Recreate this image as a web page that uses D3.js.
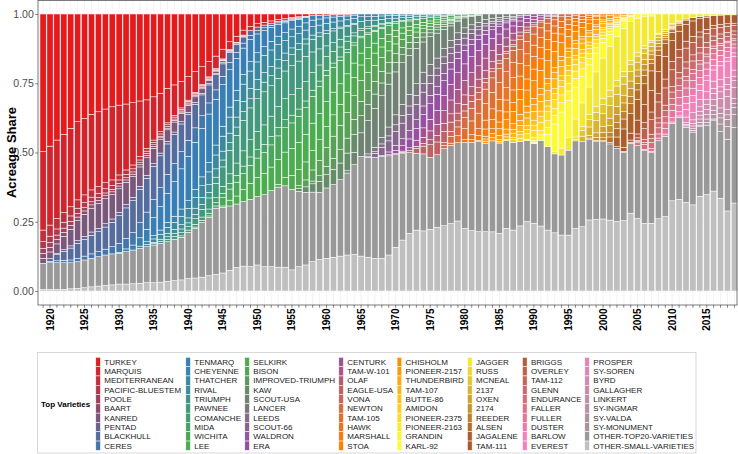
<!DOCTYPE html>
<html>
<head>
<meta charset="utf-8">
<script src="https://cdn.jsdelivr.net/npm/d3@7.9.0/dist/d3.min.js"></script>
<style>
  html, body { margin: 0; padding: 0; background: #fff; }
  svg { display: block; font-family: "Liberation Sans", Arial, sans-serif; }
</style>
</head>
<body>
<svg id="chart" width="738" height="454"></svg>
<script>
const firstYear = 1919;
const lastYear = 2019;

const varieties = [
  "TURKEY", "MARQUIS", "MEDITERRANEAN", "PACIFIC-BLUESTEM", "POOLE", "BAART", "KANRED", "PENTAD", "BLACKHULL", "CERES",
  "TENMARQ", "CHEYENNE", "THATCHER", "RIVAL", "TRIUMPH", "PAWNEE", "COMANCHE", "MIDA", "WICHITA", "LEE",
  "SELKIRK", "BISON", "IMPROVED-TRIUMPH", "KAW", "SCOUT-USA", "LANCER", "LEEDS", "SCOUT-66", "WALDRON", "ERA",
  "CENTURK", "TAM-W-101", "OLAF", "EAGLE-USA", "VONA", "NEWTON", "TAM-105", "HAWK", "MARSHALL", "STOA",
  "CHISHOLM", "PIONEER-2157", "THUNDERBIRD", "TAM-107", "BUTTE-86", "AMIDON", "PIONEER-2375", "PIONEER-2163", "GRANDIN", "KARL-92",
  "JAGGER", "RUSS", "MCNEAL", "2137", "OXEN", "2174", "REEDER", "ALSEN", "JAGALENE", "TAM-111",
  "BRIGGS", "OVERLEY", "TAM-112", "GLENN", "ENDURANCE", "FALLER", "FULLER", "DUSTER", "BARLOW", "EVEREST",
  "PROSPER", "SY-SOREN", "BYRD", "GALLAGHER", "LINKERT", "SY-INGMAR", "SY-VALDA", "SY-MONUMENT"
];
const otherNames = ["OTHER-TOP20-VARIETIES", "OTHER-SMALL-VARIETIES"];

// first year of each variety's series below
const startYear = [
  1919, 1919, 1919, 1919, 1919, 1919, 1919, 1921, 1920, 1920,
  1930, 1933, 1934, 1935, 1935, 1937, 1939, 1941, 1943, 1945,
  1953, 1956, 1958, 1956, 1963, 1966, 1967, 1966, 1968, 1969,
  1971, 1973, 1974, 1970, 1977, 1977, 1978, 1980, 1981, 1982,
  1983, 1983, 1985, 1985, 1986, 1987, 1988, 1989, 1990, 1990,
  1993, 1996, 1996, 1997, 1998, 1998, 1999, 2000, 2001, 2002,
  2003, 2004, 2005, 2005, 2005, 2006, 2007, 2009, 2010, 2011,
  2012, 2012, 2012, 2012, 2013, 2013, 2014, 2016
];

// acreage share by year, one list per variety
const shares = [
  [.497,.477,.455,.434,.413,.389,.377,.362,.353,.343,.335,.329,.325,.320,.314,.310,.299,.286,.268,.256,.244,.226,.208,.190,.172,.152,.127,.100,.080,.058,.045,.035,.030,.025,.020,.017,.012,.010,.008,.006,.005,.004,.003,.003,.002],
  [.283,.285,.283,.282,.283,.282,.276,.273,.270,.266,.264,.252,.238,.225,.201,.175,.156,.139,.125,.110,.095,.085,.075,.065,.055,.045,.035,.028,.022,.018,.015,.012,.010,.008,.006,.005,.004,.003,.002],
  [.042,.040,.038,.036,.033,.030,.028,.026,.024,.022,.020,.018,.016,.014,.012,.010,.009,.008,.007,.006,.005,.004,.004,.003,.003,.002,.002],
  [.024,.023,.022,.021,.020,.019,.018,.017,.016,.015,.014,.013,.012,.011,.010,.009,.008,.008,.007,.007,.006,.006,.005,.005,.004,.004,.003,.003,.002,.002],
  [.018,.017,.016,.015,.014,.013,.012,.011,.010,.010,.009,.009,.008,.008,.007,.007,.006,.006,.005,.005,.004,.004,.003,.003,.002],
  [.018,.017,.016,.015,.014,.013,.012,.012,.011,.011,.010,.010,.009,.009,.008,.008,.007,.007,.006,.006,.005,.005,.004,.004,.003,.003,.002],
  [.018,.024,.035,.048,.060,.072,.080,.086,.090,.090,.088,.085,.080,.075,.070,.063,.055,.048,.042,.036,.030,.025,.020,.016,.012,.009,.007,.005,.004,.003],
  [.004,.006,.008,.010,.011,.012,.012,.012,.012,.012,.012,.012,.011,.011,.010,.010,.009,.009,.008,.008,.007,.006,.005,.004,.004,.003,.003,.002],
  [.010,.022,.032,.043,.054,.060,.067,.072,.080,.088,.100,.110,.115,.120,.122,.120,.115,.110,.105,.100,.093,.085,.075,.065,.055,.045,.036,.028,.022,.017,.013,.010,.008,.006,.005,.004,.003,.002],
  [.005,.007,.009,.010,.012,.014,.016,.018,.021,.026,.032,.038,.045,.055,.062,.065,.068,.068,.065,.062,.058,.052,.046,.040,.034,.030,.026,.022,.018,.015,.012,.010,.008,.006,.005,.004,.003],
  [.004,.010,.018,.030,.045,.065,.085,.105,.125,.145,.160,.170,.175,.175,.165,.150,.135,.115,.095,.080,.068,.058,.050,.042,.035,.030,.025,.020,.016,.013,.010,.008,.006,.005,.004],
  [.008,.010,.012,.015,.018,.022,.026,.028,.030,.032,.034,.036,.036,.036,.036,.035,.034,.033,.032,.031,.030,.029,.028,.027,.026,.024,.022,.020,.018,.016,.014,.012,.010,.009,.008,.007,.006,.005,.004,.004,.003,.003,.002,.002],
  [.008,.012,.018,.022,.026,.030,.034,.038,.042,.046,.050,.054,.058,.060,.062,.063,.063,.062,.060,.055,.045,.040,.036,.032,.030,.028,.026,.024,.022,.020,.018,.016,.015,.014,.012,.011,.010,.009,.008,.007,.006,.005,.004,.004,.003,.003,.002],
  [.005,.008,.012,.014,.016,.018,.022,.025,.028,.030,.032,.034,.036,.037,.037,.036,.035,.033,.030,.027,.024,.021,.018,.015,.012,.010,.008,.006,.005,.004],
  [.005,.007,.010,.011,.013,.014,.016,.018,.020,.022,.025,.028,.030,.032,.033,.034,.035,.036,.037,.038,.040,.042,.045,.046,.046,.045,.042,.038,.034,.030,.026,.022,.019,.016,.014,.012,.010,.009,.008,.007,.006,.005,.004,.003],
  [.008,.010,.012,.012,.020,.028,.040,.052,.070,.085,.100,.110,.115,.118,.120,.110,.102,.100,.104,.098,.091,.074,.058,.038,.032,.028,.018,.011,.008,.006,.005,.004,.003],
  [.005,.008,.010,.012,.015,.018,.025,.035,.045,.055,.062,.066,.070,.074,.076,.076,.074,.075,.070,.064,.058,.050,.042,.036,.030,.025,.020,.016,.013,.010,.008,.006,.005,.004,.003],
  [.005,.008,.010,.012,.016,.020,.024,.027,.030,.030,.030,.030,.030,.029,.028,.026,.024,.022,.020,.018,.015,.012,.010,.008,.006,.005,.004,.003],
  [.005,.008,.030,.040,.050,.058,.065,.070,.075,.080,.085,.088,.092,.094,.096,.097,.097,.095,.090,.085,.078,.065,.055,.048,.042,.036,.031,.026,.022,.019,.016,.014,.012,.010,.009,.008,.006,.005,.004,.003],
  [.005,.021,.029,.043,.058,.069,.078,.085,.090,.092,.097,.099,.100,.099,.095,.090,.082,.074,.066,.052,.043,.040,.036,.031,.027,.022,.019,.016,.013,.011,.009,.008,.006,.005,.004,.003,.002],
  [.010,.030,.050,.058,.065,.070,.075,.076,.077,.076,.074,.066,.056,.050,.044,.038,.033,.027,.022,.018,.015,.012,.010,.008,.006,.004],
  [.010,.025,.040,.055,.068,.080,.088,.092,.085,.075,.066,.058,.050,.042,.035,.029,.024,.019,.015,.012,.010,.008,.006,.004],
  [.010,.020,.030,.040,.048,.054,.055,.052,.050,.046,.042,.038,.032,.027,.023,.019,.015,.012,.010,.008,.006,.005],
  [.010,.020,.030,.040,.048,.055,.060,.064,.064,.062,.058,.052,.046,.040,.034,.029,.025,.021,.018,.014,.012,.010,.008,.006,.004,.003,.002],
  [.008,.045,.085,.120,.140,.150,.155,.155,.150,.140,.128,.109,.100,.090,.070,.052,.040,.036,.030,.025,.020,.015,.012,.010,.008,.006,.005],
  [.008,.016,.024,.032,.036,.040,.042,.042,.041,.039,.036,.030,.027,.024,.021,.018,.016,.014,.011,.009,.007,.006],
  [.006,.012,.018,.024,.028,.031,.032,.031,.029,.027,.024,.021,.018,.016,.013,.011,.009,.007,.005],
  [.004,.014,.030,.040,.050,.056,.058,.056,.050,.044,.040,.036,.032,.028,.025,.022,.019,.016,.013,.010,.008,.006,.005],
  [.003,.010,.018,.025,.030,.032,.031,.030,.028,.026,.024,.022,.020,.018,.016,.014,.011,.009,.007,.005],
  [.004,.012,.020,.032,.042,.048,.056,.058,.054,.056,.052,.048,.044,.040,.036,.031,.027,.022,.018,.014,.011,.008,.006,.004],
  [.004,.010,.022,.034,.042,.050,.055,.056,.060,.060,.058,.055,.050,.044,.038,.032,.026,.020,.015,.011,.008,.006,.004],
  [.008,.022,.032,.040,.045,.050,.052,.052,.050,.048,.045,.040,.035,.030,.025,.020,.016,.012,.009,.006,.004],
  [.010,.018,.024,.030,.030,.034,.034,.033,.031,.029,.026,.023,.020,.017,.014,.011,.008,.006],
  [.004,.003,.007,.017,.028,.045,.046,.040,.034,.028,.024,.020,.017,.014,.011,.009,.007,.005],
  [.010,.018,.022,.024,.025,.025,.024,.022,.020,.018,.015,.012,.009,.007],
  [.012,.024,.032,.040,.046,.050,.052,.052,.050,.047,.043,.038,.032,.026,.021,.017,.013,.010,.008,.006],
  [.008,.025,.040,.050,.056,.060,.060,.060,.058,.055,.050,.045,.040,.034,.028,.022,.017,.013,.010,.009,.006],
  [.010,.018,.025,.032,.038,.042,.044,.045,.045,.043,.040,.036,.031,.026,.021,.016,.012,.010,.007,.005],
  [.010,.018,.026,.034,.040,.043,.046,.048,.048,.046,.042,.036,.030,.024,.018,.013,.011,.008,.005],
  [.004,.010,.018,.024,.028,.032,.036,.040,.042,.042,.040,.036,.031,.026,.021,.018,.014,.010,.007,.005],
  [.008,.014,.024,.034,.044,.054,.058,.064,.066,.064,.058,.050,.042,.034,.032,.025,.019,.014,.010,.007,.005],
  [.008,.012,.016,.018,.020,.022,.022,.022,.021,.019,.017,.015,.013,.011,.010,.008,.006,.005],
  [.006,.010,.014,.018,.021,.024,.025,.025,.024,.022,.020,.017,.015,.013,.011,.009,.007,.005],
  [.006,.010,.016,.022,.027,.032,.035,.036,.035,.033,.030,.026,.023,.020,.017,.014,.011,.008,.006,.004],
  [.004,.008,.012,.015,.018,.020,.020,.019,.018,.017,.015,.013,.011,.009,.007,.005],
  [.009,.012,.015,.018,.020,.021,.021,.020,.019,.017,.015,.013,.011,.009,.007,.005],
  [.013,.020,.026,.030,.032,.032,.031,.028,.024,.020,.017,.014,.011,.008,.006,.004],
  [.004,.012,.016,.025,.026,.028,.028,.026,.022,.018,.015,.012,.009,.006,.004],
  [.006,.010,.024,.030,.034,.034,.032,.028,.023,.019,.015,.011,.008,.006,.004],
  [.004,.010,.045,.100,.130,.135,.115,.095,.080,.068,.056,.045,.035,.027,.020,.015,.010,.007],
  [.008,.025,.045,.065,.085,.100,.125,.145,.158,.160,.155,.140,.125,.105,.088,.070,.055,.035,.025,.018,.013,.009,.007,.005,.004,.003,.003],
  [.008,.014,.018,.021,.023,.022,.020,.018,.015,.012,.009,.007,.005],
  [.006,.021,.026,.030,.032,.032,.030,.028,.025,.022,.018,.014,.010,.007,.004],
  [.020,.030,.044,.046,.046,.044,.040,.034,.028,.022,.017,.012,.008,.005,.003],
  [.010,.016,.022,.026,.028,.028,.026,.022,.018,.014,.010,.007,.004],
  [.006,.012,.020,.026,.030,.032,.030,.026,.020,.016,.012,.008,.004,.003],
  [.004,.010,.016,.022,.026,.026,.024,.020,.016,.012,.008,.005,.003],
  [.004,.020,.030,.036,.036,.034,.030,.026,.020,.014,.009,.006,.004],
  [.005,.035,.066,.070,.075,.075,.070,.058,.045,.030,.022,.016,.012,.008,.006],
  [.006,.015,.025,.050,.065,.078,.080,.082,.075,.066,.060,.055,.048,.042,.036,.034,.032,.030],
  [.004,.008,.014,.022,.028,.030,.032,.030,.028,.025,.022,.018,.015,.012,.010,.009,.008],
  [.004,.010,.039,.052,.058,.062,.060,.055,.050,.045,.038,.032,.026,.024,.022,.020],
  [.004,.010,.016,.018,.020,.020,.020,.022,.022,.020,.018,.016,.016,.016,.014],
  [.004,.008,.014,.018,.022,.024,.028,.030,.030,.028,.024,.020,.018,.016,.014],
  [.010,.018,.022,.022,.022,.020,.018,.016,.014,.012,.010,.008,.007,.006,.005],
  [.004,.010,.015,.020,.022,.024,.026,.026,.024,.022,.020,.018,.016,.014],
  [.005,.010,.020,.026,.028,.030,.028,.025,.022,.020,.018,.016,.014],
  [.008,.016,.024,.025,.026,.026,.024,.022,.022,.020,.018],
  [.006,.015,.022,.026,.020,.018,.016,.016,.014,.012],
  [.006,.028,.036,.034,.040,.040,.050,.060,.050],
  [.020,.026,.026,.028,.026,.026,.024,.022],
  [.006,.012,.016,.018,.018,.018,.018,.016],
  [.006,.010,.014,.018,.022,.024,.026,.024],
  [.006,.010,.014,.018,.022,.034,.046,.040],
  [.006,.012,.016,.018,.020,.020,.018],
  [.006,.010,.012,.014,.016,.016,.014],
  [.004,.010,.016,.022,.026,.026],
  [.004,.028,.046,.046]
];

// 1919 .. 2019
const otherTop20 = [
  .094,.096,.096,.096,.094,.096,.100,.103,.106,.110,
  .112,.111,.117,.122,.126,.130,.136,.140,.143,.149,
  .154,.167,.179,.197,.211,.239,.237,.232,.229,.233,
  .243,.247,.261,.275,.289,.294,.290,.272,.262,.251,
  .242,.254,.262,.276,.296,.324,.360,.361,.365,.368,
  .358,.334,.314,.292,.278,.278,.260,.262,.279,.283,
  .283,.310,.318,.325,.319,.329,.325,.316,.317,.304,
  .294,.287,.310,.301,.285,.289,.307,.316,.307,.289,
  .281,.279,.275,.264,.246,.252,.263,.263,.254,.283,
  .289,.278,.295,.270,.262,.254,.250,.255,.240,.259,
  .273
];
const otherSmall = [
  .006,.006,.006,.006,.008,.010,.012,.015,.018,.020,
  .022,.025,.025,.026,.028,.030,.030,.032,.035,.038,
  .040,.045,.047,.050,.055,.060,.065,.075,.085,.090,
  .088,.094,.088,.088,.086,.086,.076,.088,.094,.106,
  .114,.118,.122,.126,.130,.132,.126,.122,.118,.118,
  .130,.158,.184,.208,.220,.217,.223,.230,.236,.244,
  .253,.226,.218,.214,.214,.214,.208,.226,.220,.235,
  .251,.244,.235,.220,.210,.202,.202,.226,.232,.256,
  .258,.260,.256,.251,.254,.281,.262,.244,.244,.262,
  .268,.325,.331,.320,.310,.343,.347,.359,.335,.289,
  .317
];

const labelYears = [1920, 1925, 1930, 1935, 1940, 1945, 1950, 1955, 1960, 1965,
  1970, 1975, 1980, 1985, 1990, 1995, 2000, 2005, 2010, 2015];
const yTicks = [0, 0.25, 0.5, 0.75, 1];

const years = d3.range(firstYear, lastYear + 1);
const names = varieties.concat(otherNames);

const rows = years.map((year, j) => {
  const row = { year };
  varieties.forEach((name, i) => {
    const k = year - startYear[i];
    row[name] = k >= 0 && k < shares[i].length ? shares[i][k] : 0;
  });
  row[otherNames[0]] = otherTop20[j];
  row[otherNames[1]] = otherSmall[j];
  return row;
});

const ramp = d3.piecewise(d3.interpolateRgb, d3.schemeSet1);
const color = d3.scaleOrdinal()
  .domain(names)
  .range(names.map((d, i) => i <= varieties.length ? ramp(i / varieties.length) : "#bfbfbf"));

const panel = { left: 38, top: 0.5, right: 737, bottom: 305 };

const x = d3.scaleBand()
  .domain(years)
  .range([panel.left, 739.5])
  .paddingInner(0.1)
  .paddingOuter(0.287);
const y = d3.scaleLinear().domain([0, 1]).range([291, 14]);

const series = d3.stack()
  .keys(names.slice().reverse())
  .offset(d3.stackOffsetExpand)(rows);

const svg = d3.select("#chart");

// grid
const grid = svg.append("g");
grid.selectAll("line.v").data(years).join("line")
  .attr("x1", d => x(d) + x.bandwidth() / 2).attr("x2", d => x(d) + x.bandwidth() / 2)
  .attr("y1", panel.top).attr("y2", panel.bottom)
  .attr("stroke", "#ebebeb").attr("stroke-width", 0.6);
grid.selectAll("line.h").data(yTicks).join("line")
  .attr("x1", panel.left).attr("x2", panel.right)
  .attr("y1", d => y(d)).attr("y2", d => y(d))
  .attr("stroke", "#ebebeb").attr("stroke-width", 0.6);

// bars
const bars = svg.append("g").attr("stroke", "#fff").attr("stroke-width", 0.5);
series.forEach(s => {
  bars.append("g")
    .attr("fill", color(s.key))
    .selectAll("rect")
    .data(s.filter(d => d[1] - d[0] > 0))
    .join("rect")
    .attr("x", d => x(d.data.year))
    .attr("width", x.bandwidth())
    .attr("y", d => y(d[1]))
    .attr("height", d => y(d[0]) - y(d[1]));
});

svg.append("rect")
  .attr("x", panel.left).attr("y", panel.top)
  .attr("width", panel.right - panel.left).attr("height", panel.bottom - panel.top)
  .attr("fill", "none").attr("stroke", "#5a5a5a").attr("stroke-width", 0.8);

// axes
const yAxis = svg.append("g")
  .attr("transform", `translate(${panel.left},0)`)
  .call(d3.axisLeft(y).tickValues(yTicks).tickFormat(d3.format(".2f")).tickSize(2.75).tickPadding(1.5));
yAxis.select(".domain").remove();
yAxis.selectAll("line").attr("stroke", "#333").attr("stroke-width", 0.6);
yAxis.selectAll("text").attr("font-size", 10.5).attr("fill", "#4d4d4d")
  .attr("font-family", "Liberation Sans, Arial, sans-serif");

const xAxis = svg.append("g")
  .attr("transform", `translate(0,${panel.bottom})`)
  .call(d3.axisBottom(x).tickFormat(d => labelYears.includes(d) ? d : "").tickSize(2.75));
xAxis.select(".domain").remove();
xAxis.selectAll("line").attr("stroke", "#333").attr("stroke-width", 0.6);
xAxis.selectAll("text")
  .attr("transform", "rotate(-90)")
  .attr("x", -3.5).attr("y", 0).attr("dy", "0.35em")
  .attr("text-anchor", "end")
  .attr("font-size", 10).attr("font-weight", "bold").attr("fill", "#000")
  .attr("font-family", "Liberation Sans, Arial, sans-serif");

svg.append("text")
  .attr("transform", "translate(15.5,152.5) rotate(-90)")
  .attr("text-anchor", "middle")
  .attr("font-size", 13).attr("font-weight", "bold")
  .text("Acreage Share");

// legend, ten entries per column
const legend = svg.append("g");
const rowStep = 9.3;
const firstRowY = 362;
const columnX = [96, 186, 245, 339, 397.3, 467.7, 522.7, 585];

legend.append("rect")
  .attr("x", 37.5).attr("y", 352.5)
  .attr("width", 696 - 37.5).attr("height", 100.5)
  .attr("fill", "none").attr("stroke", "#cfcfcf").attr("stroke-width", 0.8);

legend.append("text")
  .attr("x", 41).attr("y", firstRowY + rowStep * 4.5).attr("dy", "0.35em")
  .attr("font-size", 8).attr("font-weight", "bold")
  .text("Top Varieties");

names.forEach((name, i) => {
  const cx = columnX[Math.floor(i / 10)];
  const cy = firstRowY + (i % 10) * rowStep;
  legend.append("rect")
    .attr("x", cx - 0.2).attr("y", cy - rowStep / 2)
    .attr("width", 4.6).attr("height", rowStep)
    .attr("fill", color(name)).attr("stroke", "#fff").attr("stroke-width", 0.5);
  legend.append("text")
    .attr("x", cx + 8.3).attr("y", cy).attr("dy", "0.35em")
    .attr("font-size", 8).attr("fill", "#1a1a1a")
    .text(name);
});
</script>
</body>
</html>
